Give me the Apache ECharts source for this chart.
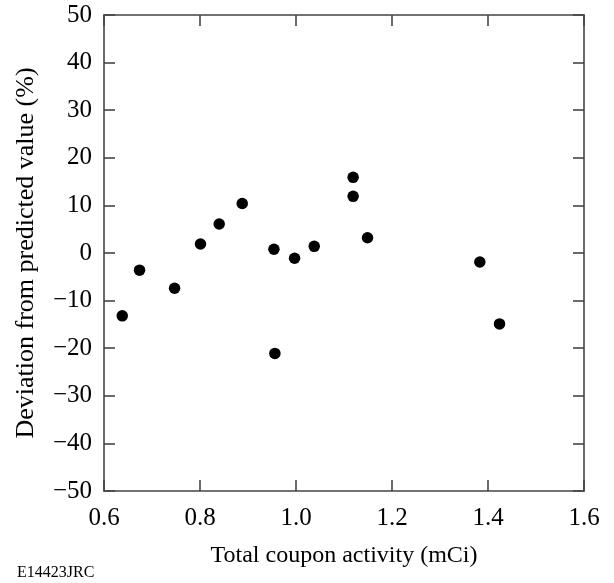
<!DOCTYPE html>
<html>
<head>
<meta charset="utf-8">
<script src="https://cdn.jsdelivr.net/npm/echarts@6/dist/echarts.min.js"></script>
<style>
  html, body { margin: 0; padding: 0; background: #fff; }
  #chart { width: 614px; height: 583px; }
</style>
</head>
<body>
<div id="chart"></div>
<script>
// Total coupon activity (mCi) for each coupon
const activity = [0.638, 0.674, 0.747, 0.801, 0.840, 0.888, 0.954, 0.997, 1.038, 0.956, 1.119, 1.119, 1.149, 1.383, 1.424];
// Deviation from predicted value (%)
const deviation = [-13.2, -3.6, -7.4, 1.9, 6.1, 10.4, 0.8, -1.1, 1.4, -21.1, 15.9, 11.9, 3.2, -1.9, -14.9];

const xTicks = { min: 0.6, max: 1.6, step: 0.2 };
const yTicks = { min: -50, max: 50, step: 10 };

const points = activity.map((x, i) => [x, deviation[i]]);

const font = '"Liberation Serif", "Times New Roman", serif';
const axisColor = '#444';

function frameAxis(pos, range, showLabels, extra) {
  return Object.assign({
    type: 'value',
    position: pos,
    min: range.min,
    max: range.max,
    interval: range.step,
    axisLine: { show: true, onZero: false, lineStyle: { color: axisColor, width: 1.6 } },
    axisTick: { show: true, inside: true, length: 11, lineStyle: { color: axisColor, width: 1.6 } },
    splitLine: { show: false },
    axisLabel: { show: showLabels }
  }, extra || {});
}

const chart = echarts.init(document.getElementById('chart'), null, { renderer: 'canvas' });
chart.setOption({
  animation: false,
  backgroundColor: '#fff',
  grid: { left: 104, right: 30, top: 15, bottom: 92, containLabel: false },
  xAxis: [
    frameAxis('bottom', xTicks, true, {
      name: 'Total coupon activity (mCi)',
      nameLocation: 'middle',
      nameGap: 53,
      nameTextStyle: { fontFamily: font, fontSize: 24, color: '#000' },
      axisLabel: {
        show: true, margin: 15, fontFamily: font, fontSize: 25, color: '#000',
        formatter: v => v.toFixed(1)
      }
    }),
    frameAxis('top', xTicks, false)
  ],
  yAxis: [
    frameAxis('left', yTicks, true, {
      name: 'Deviation from predicted value (%)',
      nameLocation: 'middle',
      nameGap: 65,
      nameTextStyle: { fontFamily: font, fontSize: 26, color: '#000' },
      axisLabel: {
        show: true, margin: 12, fontFamily: font, fontSize: 25, color: '#000',
        formatter: v => String(Math.round(v)).replace('-', '\u2212')
      }
    }),
    frameAxis('right', yTicks, false)
  ],
  series: [{
    type: 'scatter',
    xAxisIndex: 0,
    yAxisIndex: 0,
    data: points,
    symbol: 'circle',
    symbolSize: 11.5,
    itemStyle: { color: '#000', opacity: 1 }
  }],
  graphic: [{
    type: 'text',
    left: 17,
    top: 565,
    style: { text: 'E14423JRC', font: '16px ' + font, fill: '#000' }
  }]
});
</script>
</body>
</html>
